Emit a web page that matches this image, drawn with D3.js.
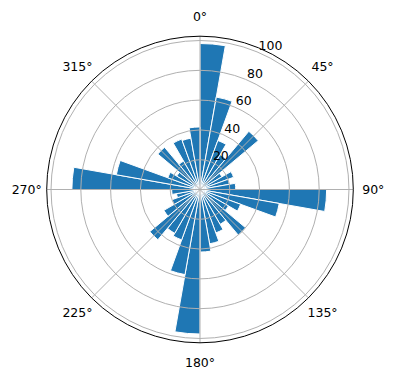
<!DOCTYPE html>
<html>
<head>
<meta charset="utf-8">
<style>
    body { margin: 0; background: #fff; }
    text { font-family: "DejaVu Sans", sans-serif; }
</style>
</head>
<body>
<div id="chart"></div>
<script src="https://d3js.org/d3.v7.min.js"></script>
<script>
    // direction bins (start angle, degrees) and bar heights
    var directions = [0, 10, 20, 30, 40, 50, 60, 70, 80,
                      90, 100, 110, 120, 130, 140, 150, 160, 170,
                      180, 190, 200, 210, 220, 230, 240, 250, 260,
                      270, 280, 290, 300, 310, 320, 330, 340, 350];
    var counts = [98, 63, 35, 27, 51, 17, 24, 20, 24,
                  85, 54, 29, 22, 40, 27, 31, 37, 42,
                  97, 58, 36, 34, 44, 28, 20, 16, 19,
                  86, 57, 23, 18, 37, 22, 36, 35, 42];
    var binWidth = 10;

    var rTicks = [20, 40, 60, 80, 100];
    var thetaTicks = [0, 45, 90, 135, 180, 225, 270, 315];
    var thetaLabels = ["0°", "45°", "90°", "135°", "180°", "225°", "270°", "315°"];

    var width = 396,
        height = 380,
        cx = 200,
        cy = 189.5,
        R = 153.3;

    var svg = d3.select("#chart")
        .append("svg")
        .attr("width", width)
        .attr("height", height);

    var g = svg.append("g").attr("transform", "translate(" + cx + "," + cy + ")");

    // matplotlib-like 5% margin on the radial axis
    var r = d3.scaleLinear()
        .domain([0, d3.max(counts) * 1.05])
        .range([0, R]);

    var rad = function (deg) { return deg * Math.PI / 180; };

    var arc = d3.arc()
        .innerRadius(0)
        .outerRadius(function (d) { return r(d.v); })
        .startAngle(function (d) { return rad(d.a); })
        .endAngle(function (d) { return rad(d.a + binWidth); });

    var bars = directions.map(function (a, i) { return { a: a, v: counts[i] }; });

    g.append("g")
        .selectAll("path")
        .data(bars)
        .enter().append("path")
        .attr("d", arc)
        .attr("fill", "#1f77b4")
        .attr("stroke", "#fff")
        .attr("stroke-width", 1);

    // grid on top of the bars
    var grid = g.append("g")
        .attr("fill", "none")
        .attr("stroke", "#b0b0b0")
        .attr("stroke-width", 1);

    grid.selectAll("circle")
        .data(rTicks)
        .enter().append("circle")
        .attr("r", function (d) { return r(d); });

    grid.selectAll("line")
        .data(thetaTicks)
        .enter().append("line")
        .attr("x1", 0).attr("y1", 0)
        .attr("x2", function (d) { return R * Math.sin(rad(d)); })
        .attr("y2", function (d) { return -R * Math.cos(rad(d)); });

    // outer spine
    g.append("circle")
        .attr("r", R)
        .attr("fill", "none")
        .attr("stroke", "#000")
        .attr("stroke-width", 1);

    // angle labels
    var labelR = R + 20;
    g.append("g")
        .selectAll("text")
        .data(thetaTicks)
        .enter().append("text")
        .attr("x", function (d) { return labelR * Math.sin(rad(d)); })
        .attr("y", function (d) { return -labelR * Math.cos(rad(d)); })
        .attr("text-anchor", "middle")
        .attr("dominant-baseline", "central")
        .attr("font-size", "12.5px")
        .text(function (d, i) { return thetaLabels[i]; });

    // radial labels along 22.5 degrees
    g.append("g")
        .selectAll("text")
        .data(rTicks)
        .enter().append("text")
        .attr("x", function (d) { return r(d) * Math.sin(rad(22.5)) + 1.5; })
        .attr("y", function (d) { return -r(d) * Math.cos(rad(22.5)) - 1.5; })
        .attr("font-size", "12.5px")
        .text(function (d) { return d; });
</script>
</body>
</html>
